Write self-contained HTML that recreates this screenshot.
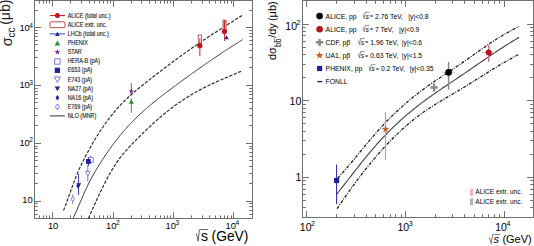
<!DOCTYPE html>
<html><head><meta charset="utf-8"><style>
html,body{margin:0;padding:0;background:#fff;}
svg{display:block;font-family:"Liberation Sans", sans-serif;}
text{fill:#000;}
</style></head><body>
<svg width="534" height="246" viewBox="0 0 534 246" xmlns="http://www.w3.org/2000/svg">
<rect x="34.5" y="0.5" width="218.0" height="218.0" fill="none" stroke="#707070" stroke-width="1"/>
<path d="M52.5 218.5v-6.2M52.5 0.5v6.2M113.5 218.5v-6.2M113.5 0.5v6.2M173.5 218.5v-6.2M173.5 0.5v6.2M233.5 218.5v-6.2M233.5 0.5v6.2M39.5 218.5v-3.1M39.5 0.5v3.1M43.5 218.5v-3.1M43.5 0.5v3.1M46.5 218.5v-3.1M46.5 0.5v3.1M49.5 218.5v-3.1M49.5 0.5v3.1M70.5 218.5v-3.1M70.5 0.5v3.1M81.5 218.5v-3.1M81.5 0.5v3.1M89.5 218.5v-3.1M89.5 0.5v3.1M94.5 218.5v-3.1M94.5 0.5v3.1M99.5 218.5v-3.1M99.5 0.5v3.1M103.5 218.5v-3.1M103.5 0.5v3.1M107.5 218.5v-3.1M107.5 0.5v3.1M110.5 218.5v-3.1M110.5 0.5v3.1M131.5 218.5v-3.1M131.5 0.5v3.1M141.5 218.5v-3.1M141.5 0.5v3.1M149.5 218.5v-3.1M149.5 0.5v3.1M155.5 218.5v-3.1M155.5 0.5v3.1M160.5 218.5v-3.1M160.5 0.5v3.1M164.5 218.5v-3.1M164.5 0.5v3.1M167.5 218.5v-3.1M167.5 0.5v3.1M170.5 218.5v-3.1M170.5 0.5v3.1M191.5 218.5v-3.1M191.5 0.5v3.1M202.5 218.5v-3.1M202.5 0.5v3.1M209.5 218.5v-3.1M209.5 0.5v3.1M215.5 218.5v-3.1M215.5 0.5v3.1M220.5 218.5v-3.1M220.5 0.5v3.1M224.5 218.5v-3.1M224.5 0.5v3.1M227.5 218.5v-3.1M227.5 0.5v3.1M231.5 218.5v-3.1M231.5 0.5v3.1" stroke="#707070" stroke-width="1" fill="none"/>
<path d="M34.5 201.5h6.5M252.5 201.5h-6.5M34.5 143.5h6.5M252.5 143.5h-6.5M34.5 85.5h6.5M252.5 85.5h-6.5M34.5 27.5h6.5M252.5 27.5h-6.5M34.5 214.5h3.3M252.5 214.5h-3.3M34.5 210.5h3.3M252.5 210.5h-3.3M34.5 206.5h3.3M252.5 206.5h-3.3M34.5 203.5h3.3M252.5 203.5h-3.3M34.5 183.5h3.3M252.5 183.5h-3.3M34.5 173.5h3.3M252.5 173.5h-3.3M34.5 166.5h3.3M252.5 166.5h-3.3M34.5 160.5h3.3M252.5 160.5h-3.3M34.5 156.5h3.3M252.5 156.5h-3.3M34.5 152.5h3.3M252.5 152.5h-3.3M34.5 148.5h3.3M252.5 148.5h-3.3M34.5 146.5h3.3M252.5 146.5h-3.3M34.5 125.5h3.3M252.5 125.5h-3.3M34.5 115.5h3.3M252.5 115.5h-3.3M34.5 108.5h3.3M252.5 108.5h-3.3M34.5 102.5h3.3M252.5 102.5h-3.3M34.5 98.5h3.3M252.5 98.5h-3.3M34.5 94.5h3.3M252.5 94.5h-3.3M34.5 91.5h3.3M252.5 91.5h-3.3M34.5 88.5h3.3M252.5 88.5h-3.3M34.5 67.5h3.3M252.5 67.5h-3.3M34.5 57.5h3.3M252.5 57.5h-3.3M34.5 50.5h3.3M252.5 50.5h-3.3M34.5 44.5h3.3M252.5 44.5h-3.3M34.5 40.5h3.3M252.5 40.5h-3.3M34.5 36.5h3.3M252.5 36.5h-3.3M34.5 33.5h3.3M252.5 33.5h-3.3M34.5 30.5h3.3M252.5 30.5h-3.3M34.5 10.5h3.3M252.5 10.5h-3.3" stroke="#707070" stroke-width="1" fill="none"/>
<text x="19.38" y="31.40" font-size="9.4">10<tspan font-size="6.6" dx="-0.5" dy="-3.8">4</tspan></text>
<text x="19.38" y="88.40" font-size="9.4">10<tspan font-size="6.6" dx="-0.5" dy="-3.8">3</tspan></text>
<text x="19.38" y="145.70" font-size="9.4">10<tspan font-size="6.6" dx="-0.5" dy="-3.8">2</tspan></text>
<text x="22.18" y="202.70" font-size="9.4">10</text>
<text x="47.88" y="229.20" font-size="9.4">10</text>
<text x="106.08" y="229.20" font-size="9.4">10<tspan font-size="6.6" dx="-0.5" dy="-4.0">2</tspan></text>
<text x="165.48" y="229.20" font-size="9.4">10<tspan font-size="6.6" dx="-0.5" dy="-4.0">3</tspan></text>
<text x="225.48" y="229.20" font-size="9.4">10<tspan font-size="6.6" dx="-0.5" dy="-4.0">4</tspan></text>
<path d="M196.3 233.4 L198.2 241.2 L199.5 229.6 H208" stroke="#555" stroke-width="0.9" fill="none"/>
<text x="201.00" y="241.40" font-size="14" text-anchor="start" >s</text>
<text x="211.60" y="241.40" font-size="13.8" text-anchor="start" >(GeV)</text>
<g transform="translate(10.0,47.2) rotate(-90)" fill="#222">
<text x="1.0" y="1.6" font-size="14.5" style="fill:#222">σ</text>
<text x="9.6" y="5.3" font-size="10" style="fill:#222">cc</text>
<path d="M14.6 -0.8 H19.2" stroke="#777" stroke-width="0.8"/>
<text x="22.4" y="0" font-size="14" style="fill:#222">(μb)</text>
</g>
<path d="M49.8 15.60H65" stroke="#c4161c" stroke-width="1"/>
<circle cx="57.4" cy="15.60" r="2.5" fill="#c4161c"/>
<rect x="50" y="21.82" width="15" height="5.8" rx="0.8" fill="#fff" stroke="#b03a3a" stroke-width="0.9"/>
<path d="M49.8 33.84H65" stroke="#8c8cd6" stroke-width="1.7"/>
<polygon points="55.10,35.91 59.70,35.91 57.40,31.77" fill="#23239a" stroke="none" stroke-width="0.8"/>
<polygon points="54.60,45.48 60.20,45.48 57.40,40.44" fill="#2c8a3c" stroke="none" stroke-width="0.8"/>
<polygon points="57.40,49.08 58.14,51.06 60.25,51.15 58.60,52.47 59.16,54.51 57.40,53.34 55.64,54.51 56.20,52.47 54.55,51.15 56.66,51.06" fill="#7d2b9b"/>
<rect x="54.70" y="58.80" width="5.4" height="5.4" fill="#fff" stroke="#6a6ad0" stroke-width="0.9"/>
<rect x="54.75" y="67.67" width="5.3" height="5.3" fill="#23239a" stroke="none" stroke-width="0.8"/>
<polygon points="54.40,77.04 60.40,77.04 57.40,82.44" fill="#fff" stroke="#6a6ad0" stroke-width="0.9"/>
<polygon points="54.65,86.38 60.15,86.38 57.40,91.33" fill="#23239a" stroke="none" stroke-width="0.8"/>
<polygon points="57.40,94.88 59.30,97.68 57.40,100.48 55.50,97.68" fill="#23239a" stroke="none" stroke-width="0.8"/>
<polygon points="57.40,103.90 59.40,106.80 57.40,109.70 55.40,106.80" fill="#fff" stroke="#6a6ad0" stroke-width="0.9"/>
<path d="M50 115.92H64.9" stroke="#333" stroke-width="1"/>
<g transform="translate(67.7,0) scale(0.85,1)">
<text x="0.00" y="17.70" font-size="6.4" text-anchor="start" style="fill:#1a1a1a" stroke="#1a1a1a" stroke-width="0.12">ALICE (total unc.)</text>
<text x="0.00" y="26.82" font-size="6.4" text-anchor="start" style="fill:#1a1a1a" stroke="#1a1a1a" stroke-width="0.12">ALICE extr. unc.</text>
<text x="0.00" y="35.94" font-size="6.4" text-anchor="start" style="fill:#1a1a1a" stroke="#1a1a1a" stroke-width="0.12">LHCb (total unc.)</text>
<text x="0.00" y="45.06" font-size="6.4" text-anchor="start" style="fill:#1a1a1a" stroke="#1a1a1a" stroke-width="0.12">PHENIX</text>
<text x="0.00" y="54.18" font-size="6.4" text-anchor="start" style="fill:#1a1a1a" stroke="#1a1a1a" stroke-width="0.12">STAR</text>
<text x="0.00" y="63.30" font-size="6.4" text-anchor="start" style="fill:#1a1a1a" stroke="#1a1a1a" stroke-width="0.12">HERA-B (pA)</text>
<text x="0.00" y="72.42" font-size="6.4" text-anchor="start" style="fill:#1a1a1a" stroke="#1a1a1a" stroke-width="0.12">E653 (pA)</text>
<text x="0.00" y="81.54" font-size="6.4" text-anchor="start" style="fill:#1a1a1a" stroke="#1a1a1a" stroke-width="0.12">E743 (pA)</text>
<text x="0.00" y="90.66" font-size="6.4" text-anchor="start" style="fill:#1a1a1a" stroke="#1a1a1a" stroke-width="0.12">NA27 (pA)</text>
<text x="0.00" y="99.78" font-size="6.4" text-anchor="start" style="fill:#1a1a1a" stroke="#1a1a1a" stroke-width="0.12">NA16 (pA)</text>
<text x="0.00" y="108.90" font-size="6.4" text-anchor="start" style="fill:#1a1a1a" stroke="#1a1a1a" stroke-width="0.12">E769 (pA)</text>
<text x="0.00" y="118.02" font-size="6.4" text-anchor="start" style="fill:#1a1a1a" stroke="#1a1a1a" stroke-width="0.12">NLO (MNR)</text>
</g>
<polyline points="72.90,218.50 73.97,216.26 75.03,213.99 76.10,211.68 77.17,209.29 78.24,206.85 79.30,204.37 80.37,201.86 81.44,199.36 82.51,196.87 83.57,194.41 84.64,192.00 85.71,189.65 86.77,187.38 87.84,185.18 88.91,183.03 89.98,180.95 91.04,178.92 92.11,176.95 93.18,175.02 94.25,173.14 95.31,171.30 96.38,169.49 97.45,167.72 98.52,165.98 99.58,164.26 100.65,162.57 101.72,160.90 102.78,159.25 103.85,157.62 104.92,156.01 105.99,154.42 107.05,152.85 108.12,151.31 109.19,149.78 110.26,148.28 111.32,146.79 112.39,145.33 113.46,143.89 114.52,142.47 115.59,141.06 116.66,139.68 117.73,138.33 118.79,136.99 119.86,135.67 120.93,134.37 122.00,133.10 123.06,131.84 124.13,130.60 125.20,129.39 126.26,128.19 127.33,127.01 128.40,125.84 129.47,124.70 130.53,123.57 131.60,122.46 132.67,121.36 133.74,120.28 134.80,119.21 135.87,118.16 136.94,117.13 138.01,116.10 139.07,115.09 140.14,114.09 141.21,113.11 142.27,112.14 143.34,111.17 144.41,110.22 145.48,109.28 146.54,108.35 147.61,107.43 148.68,106.52 149.75,105.62 150.81,104.72 151.88,103.84 152.95,102.96 154.01,102.09 155.08,101.23 156.15,100.37 157.22,99.52 158.28,98.68 159.35,97.84 160.42,97.00 161.49,96.18 162.55,95.35 163.62,94.53 164.69,93.72 165.75,92.91 166.82,92.10 167.89,91.29 168.96,90.48 170.02,89.68 171.09,88.88 172.16,88.08 173.23,87.28 174.29,86.49 175.36,85.69 176.43,84.90 177.49,84.11 178.56,83.32 179.63,82.53 180.70,81.75 181.76,80.96 182.83,80.18 183.90,79.40 184.97,78.62 186.03,77.84 187.10,77.07 188.17,76.30 189.24,75.53 190.30,74.76 191.37,73.99 192.44,73.23 193.50,72.46 194.57,71.70 195.64,70.95 196.71,70.19 197.77,69.44 198.84,68.68 199.91,67.94 200.98,67.19 202.04,66.44 203.11,65.70 204.18,64.96 205.24,64.22 206.31,63.48 207.38,62.75 208.45,62.01 209.51,61.28 210.58,60.55 211.65,59.82 212.72,59.10 213.78,58.38 214.85,57.65 215.92,56.93 216.98,56.22 218.05,55.50 219.12,54.79 220.19,54.08 221.25,53.37 222.32,52.66 223.39,51.95 224.46,51.25 225.52,50.55 226.59,49.85 227.66,49.15 228.73,48.45 229.79,47.76 230.86,47.07 231.93,46.39 232.99,45.70 234.06,45.02 235.13,44.35 236.20,43.67 237.26,43.00 238.33,42.34 239.40,41.67 240.47,41.01 241.53,40.36 242.60,39.70" fill="none" stroke="#3a3a3a" stroke-width="1.0"/>
<polyline points="63.50,210.50 64.63,207.60 65.76,204.65 66.88,201.62 68.01,198.52 69.14,195.37 70.27,192.20 71.39,189.04 72.52,185.92 73.65,182.85 74.78,179.88 75.90,177.01 77.03,174.27 78.16,171.62 79.29,169.08 80.42,166.62 81.54,164.23 82.67,161.91 83.80,159.65 84.93,157.44 86.05,155.27 87.18,153.14 88.31,151.05 89.44,148.99 90.56,146.97 91.69,144.98 92.82,143.03 93.95,141.12 95.07,139.23 96.20,137.39 97.33,135.57 98.46,133.79 99.59,132.04 100.71,130.32 101.84,128.63 102.97,126.97 104.10,125.34 105.22,123.74 106.35,122.17 107.48,120.64 108.61,119.13 109.73,117.65 110.86,116.20 111.99,114.78 113.12,113.39 114.25,112.02 115.37,110.69 116.50,109.38 117.63,108.10 118.76,106.85 119.88,105.62 121.01,104.43 122.14,103.26 123.27,102.11 124.39,100.99 125.52,99.89 126.65,98.81 127.78,97.76 128.91,96.72 130.03,95.70 131.16,94.69 132.29,93.71 133.42,92.73 134.54,91.77 135.67,90.83 136.80,89.89 137.93,88.96 139.05,88.04 140.18,87.13 141.31,86.23 142.44,85.33 143.56,84.44 144.69,83.54 145.82,82.65 146.95,81.76 148.08,80.87 149.20,79.99 150.33,79.10 151.46,78.22 152.59,77.34 153.71,76.46 154.84,75.58 155.97,74.71 157.10,73.83 158.22,72.96 159.35,72.09 160.48,71.22 161.61,70.36 162.74,69.50 163.86,68.64 164.99,67.78 166.12,66.92 167.25,66.07 168.37,65.22 169.50,64.37 170.63,63.53 171.76,62.69 172.88,61.85 174.01,61.02 175.14,60.18 176.27,59.35 177.39,58.53 178.52,57.70 179.65,56.88 180.78,56.07 181.91,55.25 183.03,54.44 184.16,53.63 185.29,52.82 186.42,52.02 187.54,51.22 188.67,50.42 189.80,49.63 190.93,48.84 192.05,48.05 193.18,47.26 194.31,46.48 195.44,45.70 196.57,44.92 197.69,44.14 198.82,43.37 199.95,42.60 201.08,41.84 202.20,41.07 203.33,40.31 204.46,39.56 205.59,38.80 206.71,38.05 207.84,37.30 208.97,36.55 210.10,35.81 211.23,35.07 212.35,34.33 213.48,33.59 214.61,32.86 215.74,32.13 216.86,31.41 217.99,30.68 219.12,29.96 220.25,29.24 221.37,28.53 222.50,27.82 223.63,27.10 224.76,26.40 225.88,25.69 227.01,24.98 228.14,24.27 229.27,23.57 230.40,22.86 231.52,22.16 232.65,21.45 233.78,20.74 234.91,20.03 236.03,19.32 237.16,18.61 238.29,17.89 239.42,17.17 240.54,16.45 241.67,15.73 242.80,15.00" fill="none" stroke="#303030" stroke-width="1.2" stroke-dasharray="3.3 1.5"/>
<polyline points="88.40,218.50 89.37,216.28 90.34,214.07 91.31,211.86 92.28,209.67 93.25,207.49 94.22,205.32 95.19,203.17 96.16,201.04 97.13,198.93 98.10,196.83 99.07,194.76 100.04,192.72 101.01,190.69 101.98,188.70 102.95,186.73 103.92,184.79 104.89,182.88 105.86,181.00 106.83,179.15 107.80,177.34 108.77,175.57 109.74,173.83 110.71,172.13 111.68,170.47 112.65,168.85 113.62,167.27 114.58,165.74 115.55,164.25 116.52,162.81 117.49,161.41 118.46,160.05 119.43,158.73 120.40,157.45 121.37,156.20 122.34,154.98 123.31,153.79 124.28,152.63 125.25,151.50 126.22,150.39 127.19,149.31 128.16,148.24 129.13,147.19 130.10,146.16 131.07,145.14 132.04,144.13 133.01,143.13 133.98,142.14 134.95,141.15 135.92,140.17 136.89,139.19 137.86,138.21 138.83,137.24 139.80,136.27 140.77,135.31 141.74,134.35 142.71,133.40 143.68,132.45 144.65,131.50 145.62,130.56 146.59,129.63 147.56,128.70 148.53,127.78 149.50,126.86 150.47,125.95 151.44,125.05 152.41,124.16 153.38,123.27 154.35,122.39 155.32,121.51 156.29,120.64 157.26,119.79 158.23,118.93 159.20,118.09 160.17,117.26 161.14,116.43 162.11,115.62 163.08,114.81 164.05,114.01 165.02,113.22 165.98,112.43 166.95,111.66 167.92,110.89 168.89,110.13 169.86,109.38 170.83,108.64 171.80,107.91 172.77,107.18 173.74,106.46 174.71,105.76 175.68,105.05 176.65,104.36 177.62,103.67 178.59,102.99 179.56,102.32 180.53,101.66 181.50,101.00 182.47,100.36 183.44,99.71 184.41,99.08 185.38,98.45 186.35,97.84 187.32,97.22 188.29,96.62 189.26,96.02 190.23,95.43 191.20,94.85 192.17,94.27 193.14,93.70 194.11,93.14 195.08,92.58 196.05,92.03 197.02,91.49 197.99,90.95 198.96,90.42 199.93,89.90 200.90,89.38 201.87,88.86 202.84,88.36 203.81,87.86 204.78,87.36 205.75,86.88 206.72,86.39 207.69,85.92 208.66,85.44 209.63,84.98 210.60,84.52 211.57,84.06 212.54,83.61 213.51,83.17 214.48,82.72 215.45,82.29 216.42,81.85 217.38,81.42 218.35,81.00 219.32,80.57 220.29,80.15 221.26,79.73 222.23,79.32 223.20,78.90 224.17,78.49 225.14,78.08 226.11,77.67 227.08,77.26 228.05,76.85 229.02,76.44 229.99,76.03 230.96,75.62 231.93,75.21 232.90,74.80 233.87,74.38 234.84,73.97 235.81,73.55 236.78,73.13 237.75,72.71 238.72,72.29 239.69,71.87 240.66,71.45 241.63,71.02 242.60,70.60" fill="none" stroke="#303030" stroke-width="1.2" stroke-dasharray="3.3 1.5"/>
<path d="M72.70 194.40V204.20" stroke="#6a6ad0" stroke-width="0.9"/>
<polygon points="72.70,196.50 74.40,199.00 72.70,201.50 71.00,199.00" fill="#fff" stroke="#6a6ad0" stroke-width="0.8"/>
<path d="M78.60 173.90V195.10" stroke="#23239a" stroke-width="0.9"/>
<polygon points="77.90,183.50 79.60,186.00 77.90,188.50 76.20,186.00" fill="#23239a" stroke="none" stroke-width="0.8"/>
<polygon points="76.20,183.15 81.20,183.15 78.70,187.65" fill="#23239a" stroke="none" stroke-width="0.8"/>
<path d="M87.80 165.00V181.50" stroke="#6a6ad0" stroke-width="0.9"/>
<polygon points="85.30,171.35 90.30,171.35 87.80,175.85" fill="#fff" stroke="#6a6ad0" stroke-width="0.8"/>
<path d="M90.60 155.70V163.00" stroke="#6a6ad0" stroke-width="0.9"/>
<rect x="88.20" y="157.30" width="5" height="5" fill="#fff" stroke="#6a6ad0" stroke-width="0.8"/>
<path d="M88.40 158.00V166.00" stroke="#23239a" stroke-width="0.9"/>
<rect x="86.00" y="159.10" width="4.8" height="4.8" fill="#23239a" stroke="none" stroke-width="0.8"/>
<path d="M131.30 83.20V95.40" stroke="#7d2b9b" stroke-width="0.9"/>
<polygon points="131.30,88.50 131.99,90.35 133.96,90.43 132.42,91.66 132.95,93.57 131.30,92.48 129.65,93.57 130.18,91.66 128.64,90.43 130.61,90.35" fill="#7d2b9b"/>
<path d="M131.30 98.50V112.70" stroke="#2c8a3c" stroke-width="0.9"/>
<polygon points="128.70,103.84 133.90,103.84 131.30,99.16" fill="#2c8a3c" stroke="none" stroke-width="0.8"/>
<rect x="198.3" y="35.0" width="3.1" height="9" fill="#fff" stroke="#b03a3a" stroke-width="0.8"/>
<path d="M199.85 38.40V56.20" stroke="#c4161c" stroke-width="0.9"/>
<circle cx="199.9" cy="45.7" r="2.6" fill="#c4161c"/>
<rect x="223.0" y="20.2" width="3.1" height="9.5" fill="#eeb0b0" stroke="#b03a3a" stroke-width="0.8"/>
<path d="M224.55 20.60V41.00" stroke="#c4161c" stroke-width="0.9"/>
<circle cx="224.5" cy="31.6" r="2.6" fill="#c4161c"/>
<polygon points="224.30,39.18 228.70,39.18 226.50,35.22" fill="#23239a" stroke="none" stroke-width="0.8"/>
<rect x="302.5" y="0.5" width="231.0" height="217.0" fill="none" stroke="#707070" stroke-width="1"/>
<path d="M306.5 217.5v-6.4M306.5 0.5v6.4M405.5 217.5v-6.4M405.5 0.5v6.4M504.5 217.5v-6.4M504.5 0.5v6.4M336.5 217.5v-3.3M336.5 0.5v3.3M354.5 217.5v-3.3M354.5 0.5v3.3M366.5 217.5v-3.3M366.5 0.5v3.3M375.5 217.5v-3.3M375.5 0.5v3.3M383.5 217.5v-3.3M383.5 0.5v3.3M390.5 217.5v-3.3M390.5 0.5v3.3M395.5 217.5v-3.3M395.5 0.5v3.3M401.5 217.5v-3.3M401.5 0.5v3.3M435.5 217.5v-3.3M435.5 0.5v3.3M452.5 217.5v-3.3M452.5 0.5v3.3M464.5 217.5v-3.3M464.5 0.5v3.3M474.5 217.5v-3.3M474.5 0.5v3.3M482.5 217.5v-3.3M482.5 0.5v3.3M488.5 217.5v-3.3M488.5 0.5v3.3M494.5 217.5v-3.3M494.5 0.5v3.3M499.5 217.5v-3.3M499.5 0.5v3.3" stroke="#707070" stroke-width="1" fill="none"/>
<path d="M302.5 177.5h6.4M533.5 177.5h-6.4M302.5 100.5h6.4M533.5 100.5h-6.4M302.5 24.5h6.4M533.5 24.5h-6.4M302.5 207.5h3.3M533.5 207.5h-3.3M302.5 200.5h3.3M533.5 200.5h-3.3M302.5 194.5h3.3M533.5 194.5h-3.3M302.5 189.5h3.3M533.5 189.5h-3.3M302.5 184.5h3.3M533.5 184.5h-3.3M302.5 180.5h3.3M533.5 180.5h-3.3M302.5 154.5h3.3M533.5 154.5h-3.3M302.5 140.5h3.3M533.5 140.5h-3.3M302.5 131.5h3.3M533.5 131.5h-3.3M302.5 123.5h3.3M533.5 123.5h-3.3M302.5 117.5h3.3M533.5 117.5h-3.3M302.5 112.5h3.3M533.5 112.5h-3.3M302.5 108.5h3.3M533.5 108.5h-3.3M302.5 104.5h3.3M533.5 104.5h-3.3M302.5 77.5h3.3M533.5 77.5h-3.3M302.5 64.5h3.3M533.5 64.5h-3.3M302.5 54.5h3.3M533.5 54.5h-3.3M302.5 47.5h3.3M533.5 47.5h-3.3M302.5 41.5h3.3M533.5 41.5h-3.3M302.5 35.5h3.3M533.5 35.5h-3.3M302.5 31.5h3.3M533.5 31.5h-3.3M302.5 27.5h3.3M533.5 27.5h-3.3" stroke="#707070" stroke-width="1" fill="none"/>
<text x="285.36" y="29.50" font-size="10.5">10<tspan font-size="7" dx="-0.5" dy="-4.4">2</tspan></text>
<text x="289.56" y="104.85" font-size="10.5">10</text>
<text x="301.40" y="180.80" font-size="10.5" text-anchor="end" >1</text>
<text x="299.86" y="230.70" font-size="10.5">10<tspan font-size="7" dx="-0.5" dy="-4.4">2</tspan></text>
<text x="397.46" y="230.70" font-size="10.5">10<tspan font-size="7" dx="-0.5" dy="-4.4">3</tspan></text>
<text x="495.26" y="230.70" font-size="10.5">10<tspan font-size="7" dx="-0.5" dy="-4.4">4</tspan></text>
<path d="M489.3 237.4 L491.3 243.6 L492.6 234.6 H500.2" stroke="#555" stroke-width="0.8" fill="none"/>
<text x="493.60" y="243.20" font-size="11" text-anchor="start" font-style="italic">s</text>
<text x="502.40" y="243.20" font-size="11" text-anchor="start" >(GeV)</text>
<g transform="translate(275.7,59.8) rotate(-90)">
<text x="-0.3" y="0" font-size="11">dσ</text>
<text x="12.9" y="5.6" font-size="9" textLength="8.3" lengthAdjust="spacingAndGlyphs">bb</text>
<path d="M17.4 -1.4 H21.4" stroke="#333" stroke-width="0.6"/>
<text x="22.0" y="0" font-size="11">/dy</text>
<text x="38.7" y="0" font-size="11">(μb)</text>
</g>
<circle cx="319.6" cy="16.10" r="3.3" fill="#000"/>
<circle cx="319.6" cy="29.20" r="3.3" fill="#b5161e"/>
<path d="M315.90 42.30H323.30M319.60 38.70V45.90" stroke="#8a8a8a" stroke-width="2.4"/>
<polygon points="319.60,51.40 320.59,54.04 323.40,54.16 321.20,55.92 321.95,58.64 319.60,57.08 317.25,58.64 318.00,55.92 315.80,54.16 318.61,54.04" fill="#c0602a"/>
<rect x="317.00" y="65.90" width="5.2" height="5.2" fill="#23239a" stroke="none" stroke-width="0.8"/>
<path d="M317.3 81.60H322.4" stroke="#222" stroke-width="1.3"/>
<text x="325.60" y="18.50" font-size="6.8" text-anchor="start" >ALICE, pp</text>
<path d="M363.00 14.30 L364.30 18.50 L365.20 12.30 H369.50" stroke="#444" stroke-width="0.6" fill="none"/>
<text x="365.40" y="18.50" font-size="6.8" text-anchor="start" font-style="italic">s</text>
<text x="369.80" y="18.20" font-size="5.6" text-anchor="start" >=</text>
<text x="375.00" y="18.50" font-size="6.8" text-anchor="start" >2.76 TeV,</text>
<text x="408.30" y="18.50" font-size="6.8" text-anchor="start" >|y|&lt;0.8</text>
<text x="325.60" y="31.60" font-size="6.8" text-anchor="start" >ALICE, pp</text>
<path d="M363.00 27.40 L364.30 31.60 L365.20 25.40 H369.50" stroke="#444" stroke-width="0.6" fill="none"/>
<text x="365.40" y="31.60" font-size="6.8" text-anchor="start" font-style="italic">s</text>
<text x="369.80" y="31.30" font-size="5.6" text-anchor="start" >=</text>
<text x="375.00" y="31.60" font-size="6.8" text-anchor="start" >7 TeV,</text>
<text x="399.00" y="31.60" font-size="6.8" text-anchor="start" >|y|&lt;0.9</text>
<text x="325.60" y="44.70" font-size="6.8" text-anchor="start" >CDF, pp</text>
<path d="M358.30 40.50 L359.60 44.70 L360.50 38.50 H364.80" stroke="#444" stroke-width="0.6" fill="none"/>
<text x="360.70" y="44.70" font-size="6.8" text-anchor="start" font-style="italic">s</text>
<text x="365.10" y="44.40" font-size="5.6" text-anchor="start" >=</text>
<text x="370.30" y="44.70" font-size="6.8" text-anchor="start" >1.96 TeV,</text>
<text x="401.80" y="44.70" font-size="6.8" text-anchor="start" >|y|&lt;0.6</text>
<text x="325.60" y="57.80" font-size="6.8" text-anchor="start" >UA1, pp</text>
<path d="M358.30 53.60 L359.60 57.80 L360.50 51.60 H364.80" stroke="#444" stroke-width="0.6" fill="none"/>
<text x="360.70" y="57.80" font-size="6.8" text-anchor="start" font-style="italic">s</text>
<text x="365.10" y="57.50" font-size="5.6" text-anchor="start" >=</text>
<text x="370.30" y="57.80" font-size="6.8" text-anchor="start" >0.63 TeV,</text>
<text x="401.80" y="57.80" font-size="6.8" text-anchor="start" >|y|&lt;1.5</text>
<text x="325.60" y="70.90" font-size="6.8" text-anchor="start" >PHENIX, pp</text>
<path d="M368.90 66.70 L370.20 70.90 L371.10 64.70 H375.40" stroke="#444" stroke-width="0.6" fill="none"/>
<text x="371.30" y="70.90" font-size="6.8" text-anchor="start" font-style="italic">s</text>
<text x="375.70" y="70.60" font-size="5.6" text-anchor="start" >=</text>
<text x="380.90" y="70.90" font-size="6.8" text-anchor="start" >0.2 TeV,</text>
<text x="409.40" y="70.90" font-size="6.8" text-anchor="start" >|y|&lt;0.35</text>
<path d="M346.90 40.60H350.40" stroke="#000" stroke-width="0.55"/>
<path d="M346.90 53.70H350.40" stroke="#000" stroke-width="0.55"/>
<text x="325.60" y="84.00" font-size="6.8" text-anchor="start" >FONLL</text>
<polyline points="337.60,178.30 338.74,177.03 339.88,175.77 341.02,174.49 342.17,173.21 343.31,171.93 344.45,170.63 345.59,169.32 346.73,168.00 347.87,166.67 349.02,165.32 350.16,163.97 351.30,162.61 352.44,161.24 353.58,159.86 354.72,158.48 355.86,157.09 357.01,155.70 358.15,154.31 359.29,152.91 360.43,151.52 361.57,150.13 362.71,148.73 363.85,147.34 365.00,145.95 366.14,144.57 367.28,143.19 368.42,141.82 369.56,140.46 370.70,139.11 371.85,137.76 372.99,136.43 374.13,135.10 375.27,133.79 376.41,132.49 377.55,131.21 378.69,129.94 379.84,128.68 380.98,127.43 382.12,126.20 383.26,124.98 384.40,123.77 385.54,122.58 386.68,121.39 387.83,120.22 388.97,119.06 390.11,117.92 391.25,116.78 392.39,115.66 393.53,114.55 394.68,113.45 395.82,112.36 396.96,111.28 398.10,110.22 399.24,109.16 400.38,108.12 401.52,107.09 402.67,106.06 403.81,105.05 404.95,104.05 406.09,103.06 407.23,102.08 408.37,101.11 409.52,100.15 410.66,99.20 411.80,98.26 412.94,97.34 414.08,96.42 415.22,95.51 416.36,94.61 417.51,93.71 418.65,92.83 419.79,91.96 420.93,91.10 422.07,90.24 423.21,89.40 424.35,88.56 425.50,87.73 426.64,86.90 427.78,86.09 428.92,85.28 430.06,84.48 431.20,83.68 432.35,82.88 433.49,82.10 434.63,81.31 435.77,80.54 436.91,79.76 438.05,78.99 439.19,78.22 440.34,77.45 441.48,76.69 442.62,75.93 443.76,75.17 444.90,74.41 446.04,73.65 447.18,72.89 448.33,72.14 449.47,71.38 450.61,70.62 451.75,69.86 452.89,69.10 454.03,68.34 455.18,67.57 456.32,66.80 457.46,66.03 458.60,65.26 459.74,64.48 460.88,63.69 462.02,62.91 463.17,62.12 464.31,61.32 465.45,60.53 466.59,59.73 467.73,58.93 468.87,58.12 470.02,57.32 471.16,56.52 472.30,55.71 473.44,54.90 474.58,54.10 475.72,53.29 476.86,52.49 478.01,51.69 479.15,50.88 480.29,50.09 481.43,49.29 482.57,48.49 483.71,47.70 484.85,46.92 486.00,46.13 487.14,45.35 488.28,44.58 489.42,43.81 490.56,43.04 491.70,42.29 492.85,41.53 493.99,40.79 495.13,40.05 496.27,39.32 497.41,38.59 498.55,37.88 499.69,37.17 500.84,36.47 501.98,35.78 503.12,35.10 504.26,34.43 505.40,33.77 506.54,33.12 507.68,32.48 508.83,31.85 509.97,31.22 511.11,30.60 512.25,29.99 513.39,29.39 514.53,28.78 515.68,28.18 516.82,27.59 517.96,26.99 519.10,26.40" fill="none" stroke="#1a1a1a" stroke-width="1.25" stroke-dasharray="3.2 1.3 1 1.3"/>
<polyline points="336.80,194.20 337.95,192.73 339.09,191.27 340.24,189.80 341.39,188.33 342.53,186.86 343.68,185.39 344.83,183.92 345.97,182.45 347.12,180.98 348.27,179.50 349.41,178.03 350.56,176.56 351.71,175.08 352.85,173.61 354.00,172.14 355.14,170.68 356.29,169.22 357.44,167.76 358.58,166.31 359.73,164.86 360.88,163.42 362.02,161.99 363.17,160.56 364.32,159.14 365.46,157.73 366.61,156.33 367.76,154.94 368.90,153.55 370.05,152.18 371.20,150.82 372.34,149.47 373.49,148.14 374.64,146.82 375.78,145.51 376.93,144.21 378.08,142.93 379.22,141.67 380.37,140.41 381.52,139.17 382.66,137.94 383.81,136.73 384.95,135.53 386.10,134.34 387.25,133.16 388.39,132.00 389.54,130.85 390.69,129.71 391.83,128.58 392.98,127.46 394.13,126.36 395.27,125.27 396.42,124.18 397.57,123.11 398.71,122.05 399.86,121.01 401.01,119.97 402.15,118.94 403.30,117.92 404.45,116.92 405.59,115.92 406.74,114.93 407.89,113.96 409.03,112.99 410.18,112.03 411.33,111.08 412.47,110.15 413.62,109.22 414.76,108.30 415.91,107.38 417.06,106.48 418.20,105.58 419.35,104.70 420.50,103.82 421.64,102.95 422.79,102.09 423.94,101.23 425.08,100.38 426.23,99.54 427.38,98.71 428.52,97.88 429.67,97.05 430.82,96.24 431.96,95.43 433.11,94.62 434.26,93.82 435.40,93.02 436.55,92.22 437.70,91.43 438.84,90.65 439.99,89.86 441.14,89.08 442.28,88.31 443.43,87.53 444.57,86.76 445.72,85.99 446.87,85.21 448.01,84.45 449.16,83.68 450.31,82.91 451.45,82.14 452.60,81.37 453.75,80.61 454.89,79.84 456.04,79.07 457.19,78.30 458.33,77.53 459.48,76.75 460.63,75.98 461.77,75.20 462.92,74.42 464.07,73.63 465.21,72.85 466.36,72.07 467.51,71.28 468.65,70.49 469.80,69.70 470.95,68.91 472.09,68.12 473.24,67.33 474.38,66.54 475.53,65.75 476.68,64.96 477.82,64.17 478.97,63.38 480.12,62.59 481.26,61.81 482.41,61.02 483.56,60.23 484.70,59.45 485.85,58.67 487.00,57.89 488.14,57.11 489.29,56.33 490.44,55.56 491.58,54.79 492.73,54.02 493.88,53.25 495.02,52.49 496.17,51.73 497.32,50.97 498.46,50.22 499.61,49.47 500.76,48.72 501.90,47.98 503.05,47.24 504.19,46.51 505.34,45.78 506.49,45.06 507.63,44.34 508.78,43.63 509.93,42.91 511.07,42.21 512.22,41.50 513.37,40.80 514.51,40.09 515.66,39.39 516.81,38.70 517.95,38.00 519.10,37.30" fill="none" stroke="#3a3a3a" stroke-width="1.05"/>
<polyline points="337.00,208.70 338.15,207.03 339.29,205.36 340.44,203.69 341.58,202.03 342.73,200.37 343.87,198.72 345.02,197.08 346.16,195.44 347.31,193.82 348.45,192.20 349.60,190.60 350.74,189.00 351.89,187.42 353.03,185.85 354.18,184.28 355.32,182.73 356.47,181.19 357.62,179.65 358.76,178.13 359.91,176.62 361.05,175.12 362.20,173.64 363.34,172.16 364.49,170.69 365.63,169.24 366.78,167.80 367.92,166.37 369.07,164.95 370.21,163.54 371.36,162.15 372.50,160.77 373.65,159.40 374.79,158.04 375.94,156.70 377.08,155.37 378.23,154.05 379.38,152.74 380.52,151.45 381.67,150.17 382.81,148.90 383.96,147.64 385.10,146.40 386.25,145.17 387.39,143.96 388.54,142.75 389.68,141.56 390.83,140.38 391.97,139.22 393.12,138.06 394.26,136.92 395.41,135.80 396.55,134.68 397.70,133.58 398.85,132.49 399.99,131.41 401.14,130.35 402.28,129.30 403.43,128.26 404.57,127.24 405.72,126.23 406.86,125.23 408.01,124.24 409.15,123.27 410.30,122.31 411.44,121.36 412.59,120.43 413.73,119.51 414.88,118.60 416.02,117.71 417.17,116.82 418.32,115.95 419.46,115.10 420.61,114.26 421.75,113.43 422.90,112.61 424.04,111.80 425.19,111.01 426.33,110.22 427.48,109.45 428.62,108.68 429.77,107.93 430.91,107.18 432.06,106.45 433.20,105.72 434.35,105.00 435.49,104.28 436.64,103.57 437.78,102.87 438.93,102.17 440.08,101.48 441.22,100.79 442.37,100.10 443.51,99.42 444.66,98.75 445.80,98.07 446.95,97.40 448.09,96.72 449.24,96.05 450.38,95.38 451.53,94.71 452.67,94.04 453.82,93.37 454.96,92.69 456.11,92.02 457.25,91.34 458.40,90.66 459.55,89.97 460.69,89.28 461.84,88.59 462.98,87.90 464.13,87.20 465.27,86.49 466.42,85.79 467.56,85.08 468.71,84.37 469.85,83.65 471.00,82.94 472.14,82.22 473.29,81.50 474.43,80.78 475.58,80.06 476.72,79.34 477.87,78.62 479.02,77.89 480.16,77.17 481.31,76.45 482.45,75.73 483.60,75.01 484.74,74.29 485.89,73.57 487.03,72.85 488.18,72.14 489.32,71.42 490.47,70.71 491.61,70.00 492.76,69.30 493.90,68.60 495.05,67.90 496.19,67.20 497.34,66.51 498.48,65.82 499.63,65.14 500.78,64.46 501.92,63.79 503.07,63.12 504.21,62.45 505.36,61.80 506.50,61.14 507.65,60.50 508.79,59.85 509.94,59.21 511.08,58.58 512.23,57.95 513.37,57.32 514.52,56.69 515.66,56.07 516.81,55.44 517.95,54.82 519.10,54.20" fill="none" stroke="#1a1a1a" stroke-width="1.25" stroke-dasharray="3.2 1.3 1 1.3"/>
<path d="M336.60 164.50V204.20" stroke="#23239a" stroke-width="1.0"/>
<rect x="334.00" y="177.90" width="5.2" height="5.2" fill="#23239a" stroke="none" stroke-width="0.8"/>
<path d="M385.50 112.10V159.90" stroke="#d49470" stroke-width="1.1"/>
<polygon points="385.50,125.20 386.49,127.84 389.30,127.96 387.10,129.72 387.85,132.44 385.50,130.88 383.15,132.44 383.90,129.72 381.70,127.96 384.51,127.84" fill="#c0602a"/>
<path d="M430.40 87.50H437.80M434.10 83.50V91.50" stroke="#8a8a8a" stroke-width="2.3"/>
<path d="M442.0 72.3H455.2" stroke="#cfcfcf" stroke-width="1.3"/>
<path d="M448.60 61.90V89.60" stroke="#8a8a8a" stroke-width="1.5"/>
<circle cx="448.6" cy="72.3" r="3.4" fill="#000"/>
<path d="M482.1 52.5H494.8" stroke="#f2b4b8" stroke-width="1.3"/>
<path d="M488.70 44.80V61.70" stroke="#d86a70" stroke-width="1.4"/>
<circle cx="488.7" cy="52.5" r="3.0" fill="#b5161e"/>
<rect x="470" y="188.8" width="3.2" height="7" fill="#f2b4b8"/>
<rect x="470" y="198.4" width="3.2" height="6.8" fill="#b4b4b4"/>
<text x="475.30" y="193.90" font-size="6.5" text-anchor="start" >ALICE extr. unc.</text>
<text x="475.30" y="203.50" font-size="6.5" text-anchor="start" >ALICE extr. unc.</text>
</svg>
</body></html>
